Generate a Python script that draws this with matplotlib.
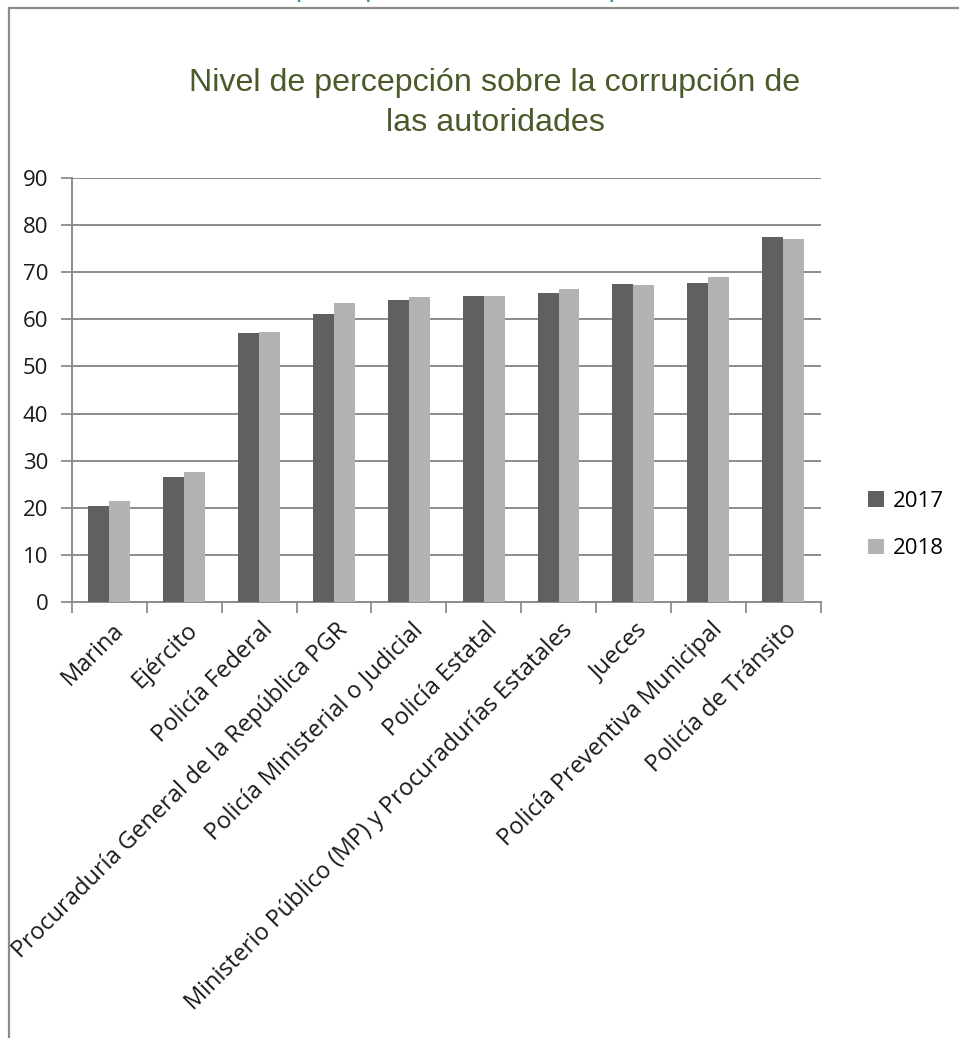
import matplotlib
matplotlib.use("Agg")
import matplotlib.pyplot as plt
import numpy as np
from matplotlib.lines import Line2D

categories = ["Marina", "Ejército", "Policía Federal",
              "Procuraduría General de la República PGR",
              "Policía Ministerial o Judicial", "Policía Estatal",
              "Ministerio Público (MP) y Procuradurías Estatales",
              "Jueces", "Policía Preventiva Municipal", "Policía de Tránsito"]
v2017 = [20.3, 26.6, 57.0, 61.2, 64.1, 64.9, 65.5, 67.5, 67.8, 77.5]
v2018 = [21.5, 27.5, 57.3, 63.5, 64.8, 65.0, 66.4, 67.3, 68.9, 77.1]
series_names = ["2017", "2018"]
yticks = [0, 10, 20, 30, 40, 50, 60, 70, 80, 90]
title = "Nivel de percepción sobre la corrupción de\nlas autoridades"

FONT = ["Open Sans", "DejaVu Sans"]
W, H = 959, 1038
fig = plt.figure(figsize=(W / 100, H / 100), dpi=100)

# outer frame (left and top edges visible)
fig.add_artist(Line2D([8.5 / W, 8.5 / W], [0, 1 - 7.5 / H], transform=fig.transFigure,
                      color="#8c8c8c", lw=1.6))
fig.add_artist(Line2D([8.5 / W, 1], [1 - 7.5 / H, 1 - 7.5 / H], transform=fig.transFigure,
                      color="#8c8c8c", lw=1.6))
# cut-off heading above the figure
fig.text(296 / W, 1 + 4 / H, "percepción sobre la corrupción", color="#3a8fa8",
         fontsize=20, ha="left", va="baseline", family=["Liberation Sans"])

left, right, top, bottom = 72, 820.5, 178, 602
ax = fig.add_axes([left / W, 1 - bottom / H, (right - left) / W, (bottom - top) / H])

x = np.arange(len(categories))
bw = 0.28
ax.bar(x - bw / 2, v2017, bw, color="#606060", label=series_names[0], zorder=3)
ax.bar(x + bw / 2, v2018, bw, color="#b2b2b2", label=series_names[1], zorder=3)

ax.set_xlim(-0.5, len(categories) - 0.5)
ax.set_ylim(0, 90)
ax.set_yticks(yticks)
ax.set_yticklabels([str(t) for t in yticks], family=FONT, fontsize=16, color="#1a1a1a")
ax.yaxis.grid(True, color="#8c8c8c", lw=1.4, zorder=0)
ax.tick_params(axis="y", length=8, width=1.3, color="#8c8c8c", pad=9)

ax.set_xticks(np.arange(len(categories) + 1) - 0.5)
ax.set_xticklabels([])
ax.tick_params(axis="x", length=8, width=1.3, color="#8c8c8c")
for i, c in enumerate(categories):
    ax.annotate(c, xy=(i, 0), xycoords="data", xytext=(2, -16), textcoords="offset pixels",
                rotation=45, rotation_mode="anchor", ha="right", va="top",
                family=FONT, fontsize=17, color="#1a1a1a", annotation_clip=False)

for s in ["top", "right"]:
    ax.spines[s].set_visible(False)
for s in ["left", "bottom"]:
    ax.spines[s].set_color("#8c8c8c")
    ax.spines[s].set_linewidth(1.4)

fig.text(495 / W, 1 - 103 / H, title, ha="center", va="center", color="#4a5a2a",
         fontsize=23.2, family=["Liberation Sans"], linespacing=1.4)

leg = fig.legend(loc="center left", bbox_to_anchor=(848 / W, 1 - 525 / H), frameon=False,
                 prop={"family": FONT, "size": 16}, handlelength=0.7, handleheight=0.7,
                 handletextpad=0.4, labelspacing=1.2)

fig.savefig("out.png", dpi=100)
